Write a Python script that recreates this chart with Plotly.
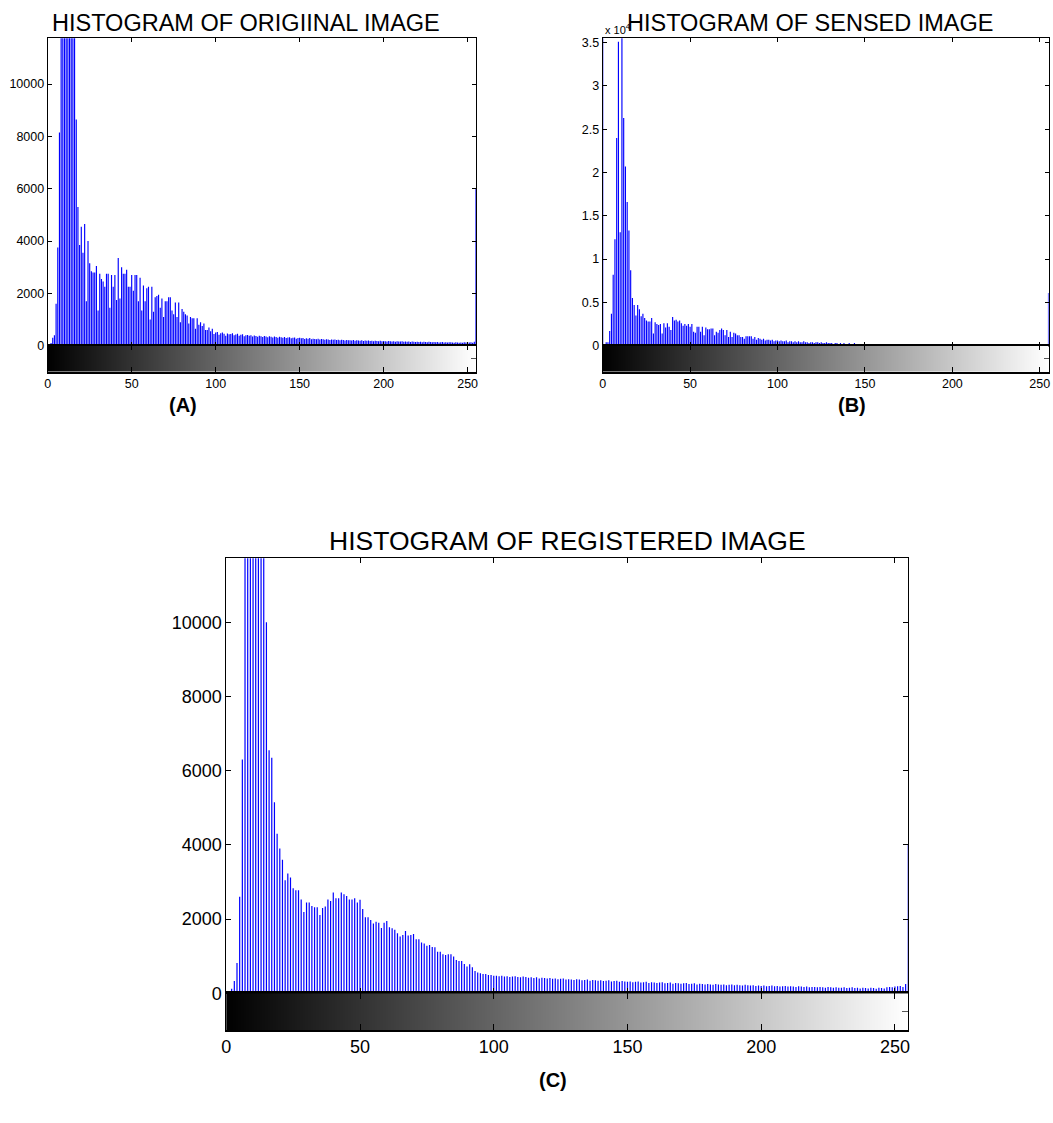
import plotly.graph_objects as go

W, H = 1053, 1123
GRAY_LEVELS = list(range(256))

# Histogram of original image (counts)
ORIGINAL_COUNTS = [
    0, 0, 100, 300, 400, 1600, 3750, 8150, 14000, 16500,
    18000, 17000, 16000, 15000, 14000, 12500, 12000, 8650, 5300, 3850,
    4550, 3550, 4650, 1700, 4000, 3150, 2850, 2800, 2800, 3050,
    1350, 2750, 2550, 2450, 2250, 2750, 2750, 1450, 2700, 2250,
    2700, 1750, 3350, 1800, 3000, 2750, 2750, 2900, 2250, 2250,
    2700, 2100, 2700, 2700, 1700, 2600, 1350, 2300, 1700, 2200,
    2250, 1000, 2250, 1300, 1850, 1900, 1950, 1450, 1800, 1100,
    1700, 1700, 1850, 1850, 1350, 1200, 1650, 1100, 1650, 900,
    1400, 1300, 1200, 1150, 850, 1100, 1050, 1050, 650, 1050,
    800, 900, 750, 850, 600, 600, 700, 550, 650, 450,
    500, 520, 420, 480, 500, 460, 380, 470, 440, 450,
    480, 400, 430, 460, 380, 420, 440, 360, 400, 410,
    380, 400, 350, 390, 370, 340, 380, 360, 330, 370,
    350, 320, 360, 340, 310, 350, 330, 300, 340, 320,
    300, 330, 290, 310, 320, 280, 300, 310, 270, 290,
    300, 280, 290, 260, 280, 270, 290, 250, 270, 260,
    250, 270, 240, 260, 250, 230, 250, 240, 220, 240,
    230, 240, 220, 230, 210, 230, 220, 200, 220, 210,
    210, 200, 220, 190, 210, 200, 190, 210, 180, 200,
    190, 200, 180, 190, 170, 190, 180, 170, 190, 170,
    180, 170, 160, 180, 170, 160, 170, 150, 170, 160,
    160, 170, 150, 160, 150, 160, 140, 160, 150, 140,
    150, 140, 150, 130, 150, 140, 130, 150, 140, 130,
    140, 130, 140, 120, 130, 140, 120, 130, 120, 130,
    130, 120, 110, 130, 120, 110, 120, 110, 130, 120,
    110, 120, 130, 110, 150, 6000,
]

# Histogram of sensed image (counts in units of 10^4)
SENSED_COUNTS_E4 = [
    3.8, 0, 0.04, 0.04, 0.17, 0.37, 0.82, 1.23, 2.40, 3.51,
    1.31, 3.9, 2.63, 2.07, 1.66, 1.33, 0.87, 0.55, 0.47, 0.35,
    0.47, 0.42, 0.34, 0.37, 0.32, 0.29, 0.28, 0.28, 0.32, 0.14,
    0.27, 0.25, 0.24, 0.25, 0.14, 0.26, 0.21, 0.26, 0.22, 0.18,
    0.33, 0.29, 0.30, 0.28, 0.29, 0.26, 0.23, 0.25, 0.23, 0.25,
    0.22, 0.25, 0.16, 0.15, 0.22, 0.22, 0.16, 0.22, 0.12, 0.21,
    0.19, 0.19, 0.20, 0.20, 0.12, 0.16, 0.15, 0.18, 0.20, 0.18,
    0.12, 0.18, 0.10, 0.16, 0.10, 0.15, 0.14, 0.12, 0.12, 0.10,
    0.10, 0.08, 0.11, 0.11, 0.11, 0.11, 0.08, 0.10, 0.07, 0.09,
    0.08, 0.07, 0.08, 0.06, 0.07, 0.07, 0.06, 0.07, 0.05, 0.06,
    0.06, 0.05, 0.06, 0.05, 0.05, 0.06, 0.04, 0.05, 0.05, 0.04,
    0.05, 0.04, 0.05, 0.04, 0.04, 0.05, 0.04, 0.04, 0.03, 0.04,
    0.04, 0.03, 0.04, 0.04, 0.03, 0.04, 0.03, 0.03, 0.04, 0.03,
    0.03, 0.03, 0.02, 0.03, 0.03, 0.02, 0.03, 0.02, 0.03, 0.02,
    0.02, 0.03, 0.02, 0.02, 0.03, 0.02, 0.02, 0.02, 0.02, 0.02,
    0.02, 0.015, 0.02, 0.02, 0.015, 0.02, 0.015, 0.02, 0.015, 0.015,
    0.02, 0.015, 0.015, 0.015, 0.02, 0.015, 0.015, 0.015, 0.015, 0.015,
    0.015, 0.02, 0.015, 0.015, 0.015, 0.015, 0.02, 0.015, 0.015, 0.015,
    0.015, 0.015, 0.015, 0.02, 0.015, 0.015, 0.015, 0.015, 0.015, 0.015,
    0.015, 0.015, 0.015, 0.015, 0.015, 0.02, 0.015, 0.015, 0.015, 0.015,
    0.015, 0.015, 0.015, 0.015, 0.015, 0.015, 0.015, 0.015, 0.015, 0.015,
    0.015, 0.015, 0.02, 0.015, 0.015, 0.015, 0.015, 0.015, 0.015, 0.015,
    0.015, 0.015, 0.015, 0.003, 0.003, 0.003, 0.003, 0.003, 0.003, 0.003,
    0.003, 0.003, 0.003, 0.003, 0.003, 0.003, 0.003, 0.003, 0.003, 0.003,
    0.003, 0.003, 0.003, 0.003, 0.003, 0.003, 0.003, 0.003, 0.003, 0.003,
    0.003, 0.003, 0.003, 0.003, 0.003, 0.61,
]

# Histogram of registered image (counts)
REGISTERED_COUNTS = [
    40, 40, 120, 330, 820, 2600, 6300, 13000, 15500, 17000,
    17500, 16500, 15000, 14000, 12500, 10000, 6550, 6350, 5150, 4300,
    3900, 3600, 3050, 3230, 3120, 2830, 2780, 2780, 2530, 2190,
    2450, 2450, 2350, 2320, 2320, 2110, 2300, 2340, 2530, 2490,
    2720, 2560, 2560, 2720, 2670, 2620, 2530, 2530, 2560, 2450,
    2520, 2270, 2050, 2050, 1975, 1880, 1930, 1900, 1760, 1900,
    1950, 1780, 1750, 1710, 1620, 1530, 1570, 1680, 1560, 1570,
    1600, 1460, 1460, 1370, 1340, 1280, 1300, 1250, 1240, 1120,
    1120, 1050, 1030, 1050, 1050, 990, 900, 870, 870, 790,
    720, 780, 700, 600, 560, 540, 520, 520, 490, 490,
    470, 470, 460, 470, 450, 460, 440, 450, 460, 440,
    430, 450, 440, 420, 430, 410, 430, 400, 420, 410,
    400, 410, 390, 400, 380, 390, 400, 370, 380, 370,
    360, 380, 370, 350, 360, 370, 340, 360, 350, 340,
    350, 330, 340, 350, 320, 330, 340, 310, 330, 320,
    310, 320, 300, 310, 320, 290, 300, 310, 280, 300,
    290, 280, 290, 300, 270, 280, 290, 260, 280, 270,
    260, 270, 280, 250, 260, 270, 240, 260, 250, 240,
    250, 240, 230, 250, 240, 230, 240, 220, 230, 240,
    220, 230, 220, 210, 230, 220, 210, 220, 200, 210,
    200, 210, 190, 200, 210, 190, 200, 180, 190, 200,
    180, 190, 180, 170, 190, 180, 170, 180, 160, 170,
    170, 160, 170, 160, 150, 170, 160, 150, 160, 150,
    150, 160, 140, 150, 160, 140, 150, 130, 150, 140,
    130, 150, 140, 120, 150, 140, 130, 160, 170, 160,
    180, 190, 200, 170, 250, 4000,
]

TITLES = ["HISTOGRAM OF ORIGIINAL IMAGE", "HISTOGRAM OF SENSED IMAGE", "HISTOGRAM OF REGISTERED IMAGE"]
PANEL_LABELS = ["(A)", "(B)", "(C)"]
X_TICKS = [0, 50, 100, 150, 200, 250]
Y_TICKS_COUNTS = [0, 2000, 4000, 6000, 8000, 10000]
Y_TICKS_E4 = [0, 0.5, 1, 1.5, 2, 2.5, 3, 3.5]
Y_TEXT_E4 = ["0", "0.5", "1", "1.5", "2", "2.5", "3", "3.5"]

FONT = "Liberation Sans, Arial, Helvetica, sans-serif"
BLUE = "#0000ff"


def px_x(v):
    return v / W


def px_y(v):
    return 1 - v / H


def stems(levels, counts):
    xs, ys = [], []
    for lv, c in zip(levels, counts):
        xs += [lv, lv, None]
        ys += [0, c, None]
    return xs, ys


fig = go.Figure()

panels = [
    dict(l=47.7, r=476.0, t=38.3, z=345.7, b=371.7, data=ORIGINAL_COUNTS, yr=[0, 11750],
         yt=Y_TICKS_COUNTS, ytext=[str(v) for v in Y_TICKS_COUNTS], fs=12.5, tl=4, lw=1.15),
    dict(l=602.7, r=1048.5, t=38.3, z=345.7, b=371.7, data=SENSED_COUNTS_E4, yr=[0, 3.55],
         yt=Y_TICKS_E4, ytext=Y_TEXT_E4, fs=12.5, tl=4, lw=1.15),
    dict(l=226.3, r=908.3, t=558.3, z=993.3, b=1030.0, data=REGISTERED_COUNTS, yr=[0, 11725],
         yt=Y_TICKS_COUNTS, ytext=[str(v) for v in Y_TICKS_COUNTS], fs=18, tl=5, lw=1.2),
]

layout_axes = {}
for k, p in enumerate(panels):
    hx = 2 * k + 1
    cx = 2 * k + 2
    xdom = [px_x(p["l"]), px_x(p["r"])]
    ydom_h = [px_y(p["z"]), px_y(p["t"])]
    ydom_c = [px_y(p["b"]), px_y(p["z"])]
    sfx_h = "" if hx == 1 else str(hx)
    sfx_c = str(cx)

    sx, sy = stems(GRAY_LEVELS, p["data"])
    fig.add_trace(go.Scatter(
        x=sx, y=sy, mode="lines", line=dict(color=BLUE, width=p["lw"]),
        xaxis="x" + sfx_h, yaxis="y" + sfx_h, showlegend=False, hoverinfo="skip",
    ))
    fig.add_trace(go.Heatmap(
        x=GRAY_LEVELS, y=[0.5], z=[GRAY_LEVELS],
        colorscale=[[0, "#000000"], [1, "#ffffff"]], showscale=False,
        xaxis="x" + sfx_c, yaxis="y" + sfx_c, hoverinfo="skip",
    ))

    tickfont = dict(family=FONT, size=p["fs"], color="black")
    layout_axes["xaxis" + sfx_h] = dict(
        domain=xdom, anchor="y" + sfx_h, range=[0, 255], tickvals=X_TICKS,
        showticklabels=False, ticks="inside", ticklen=p["tl"], tickcolor="black",
        showline=True, linecolor="black", linewidth=1, mirror="ticks",
        showgrid=False, zeroline=False, fixedrange=True,
    )
    layout_axes["yaxis" + sfx_h] = dict(
        domain=ydom_h, anchor="x" + sfx_h, range=p["yr"], tickvals=p["yt"], ticktext=p["ytext"],
        tickfont=tickfont, ticks="inside", ticklen=p["tl"], tickcolor="black",
        showline=True, linecolor="black", linewidth=1, mirror="ticks",
        showgrid=False, zeroline=False, fixedrange=True,
    )
    layout_axes["xaxis" + sfx_c] = dict(
        domain=xdom, anchor="y" + sfx_c, range=[0, 255], tickvals=X_TICKS,
        tickfont=tickfont, ticks="inside", ticklen=p["tl"] + 1, tickcolor="black",
        showline=True, linecolor="black", linewidth=1.5, mirror="ticks",
        showgrid=False, zeroline=False, fixedrange=True,
    )
    layout_axes["yaxis" + sfx_c] = dict(
        domain=ydom_c, anchor="x" + sfx_c, range=[0, 1], tickvals=[0.5],
        showticklabels=False, side="right", ticks="inside", ticklen=p["tl"] + 1,
        tickcolor="#555555", showline=True, linecolor="black", linewidth=1, mirror=True,
        showgrid=False, zeroline=False, fixedrange=True,
    )


def ann(text, x, y, size, xanchor="center", bold=False):
    return dict(text=("<b>%s</b>" % text) if bold else text, x=px_x(x), y=px_y(y),
                xref="paper", yref="paper", xanchor=xanchor, yanchor="middle",
                showarrow=False, font=dict(family=FONT, size=size, color="black"))


annotations = [
    ann("x 10<sup>4</sup>", 603, 29, 11, xanchor="left"),
    ann(TITLES[0], 245.7, 23.5, 23.5),
    ann(TITLES[1], 810, 23.5, 23.5),
    ann(TITLES[2], 567, 541, 26.5),
    ann(PANEL_LABELS[0], 183, 405, 20, bold=True),
    ann(PANEL_LABELS[1], 852, 405, 20, bold=True),
    ann(PANEL_LABELS[2], 553, 1080, 20, bold=True),
]

fig.update_layout(
    width=W, height=H, autosize=False,
    margin=dict(l=0, r=0, t=0, b=0, pad=0, autoexpand=False),
    paper_bgcolor="white", plot_bgcolor="white",
    showlegend=False,
    font=dict(family=FONT, color="black"),
    annotations=annotations,
    **layout_axes,
)

fig.write_html(
    "out.html",
    config={"displayModeBar": False},
    post_script="document.body.style.margin='0px';document.body.style.overflow='hidden';"
                "document.documentElement.style.overflow='hidden';",
)
